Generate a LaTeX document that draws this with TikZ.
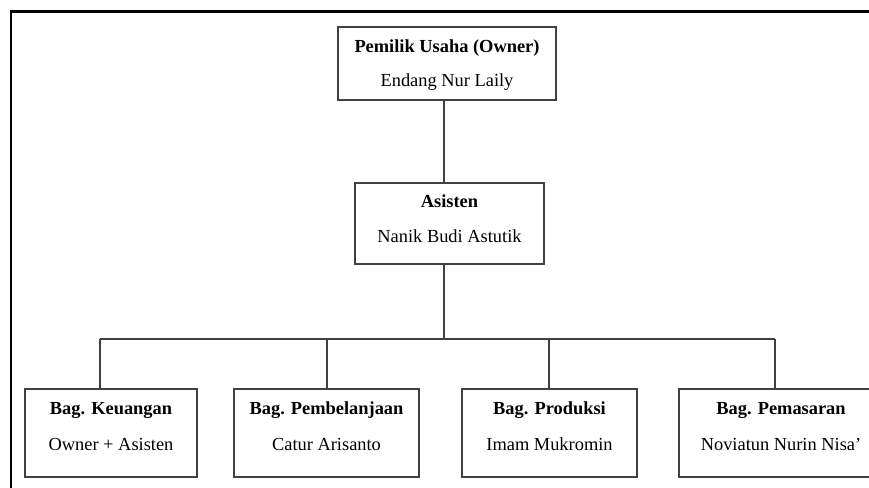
\documentclass[tikz,border=0pt]{standalone}
\usepackage{fontspec}
\setmainfont{Liberation Serif}
\begin{document}
\begin{tikzpicture}[x=1pt,y=-1pt,
  box/.style={draw=black!75, line width=1.3pt, fill=white, minimum height=88pt, inner sep=0pt},
  ttl/.style={anchor=base, font=\fontsize{18.4}{20}\selectfont\bfseries, inner sep=0pt},
  nme/.style={anchor=base, font=\fontsize{18.4}{20}\selectfont, inner sep=0pt},
  conn/.style={draw=black!75, line width=1.1pt},
  frame/.style={draw=black, line cap=rect}]
\useasboundingbox (0,0) rectangle (869,487);
\clip (0,0) rectangle (869,487);
\fill[white] (0,0) rectangle (869,487);
% frame
\coordinate (fc) at (11,11.5);
\coordinate (fr) at (875,11.5);
\coordinate (fb) at (11,495);
\draw[frame, line width=2.8pt] (fc) -- (fr);
\draw[frame, line width=2pt] (fc) -- (fb);
% boxes
\node[box, minimum width=218pt, minimum height=73pt] (own) at (447,63.5) {};
\node[box, minimum width=189pt, minimum height=81pt] (asi) at (449.5,223.5) {};
\node[box, minimum width=172pt] (keu) at (111,433) {};
\node[box, minimum width=185pt] (pem) at (326.5,433) {};
\node[box, minimum width=175pt] (pro) at (549.5,433) {};
\node[box, minimum width=204pt] (pms) at (781,433) {};
% texts
\node[ttl] (ownT) at ([yshift=-26pt]own.north) {Pemilik Usaha (Owner)};
\node[nme] (ownN) at ([yshift=-60pt]own.north) {Endang Nur Laily};
\node[ttl] (asiT) at ([yshift=-25pt]asi.north) {Asisten};
\node[nme] (asiN) at ([yshift=-60pt]asi.north) {Nanik Budi Astutik};
\node[ttl] (keuT) at ([yshift=-26pt]keu.north) {Bag. Keuangan};
\node[nme] (keuN) at ([yshift=-62pt]keu.north) {Owner + Asisten};
\node[ttl] (pemT) at ([yshift=-26pt]pem.north) {Bag. Pembelanjaan};
\node[nme] (pemN) at ([yshift=-62pt]pem.north) {Catur Arisanto};
\node[ttl] (proT) at ([yshift=-26pt]pro.north) {Bag. Produksi};
\node[nme] (proN) at ([yshift=-62pt]pro.north) {Imam Mukromin};
\node[ttl] (pmsT) at ([yshift=-26pt]pms.north) {Bag. Pemasaran};
\node[nme] (pmsN) at ([yshift=-62pt]pms.north) {Noviatun Nurin Nisa’};
% connectors
\coordinate (j) at (444,339);
\coordinate (d1) at (100,339);
\coordinate (d2) at (327,339);
\coordinate (d3) at (549,339);
\coordinate (d4) at (775,339);
\draw[conn] (j |- own.south) -- (j |- asi.north);
\draw[conn] (j |- asi.south) -- (j);
\draw[conn] (d1) -- (d4);
\draw[conn] (d1) -- (d1 |- keu.north);
\draw[conn] (d2) -- (d2 |- pem.north);
\draw[conn] (d3) -- (d3 |- pro.north);
\draw[conn] (d4) -- (d4 |- pms.north);
\end{tikzpicture}
\end{document}
